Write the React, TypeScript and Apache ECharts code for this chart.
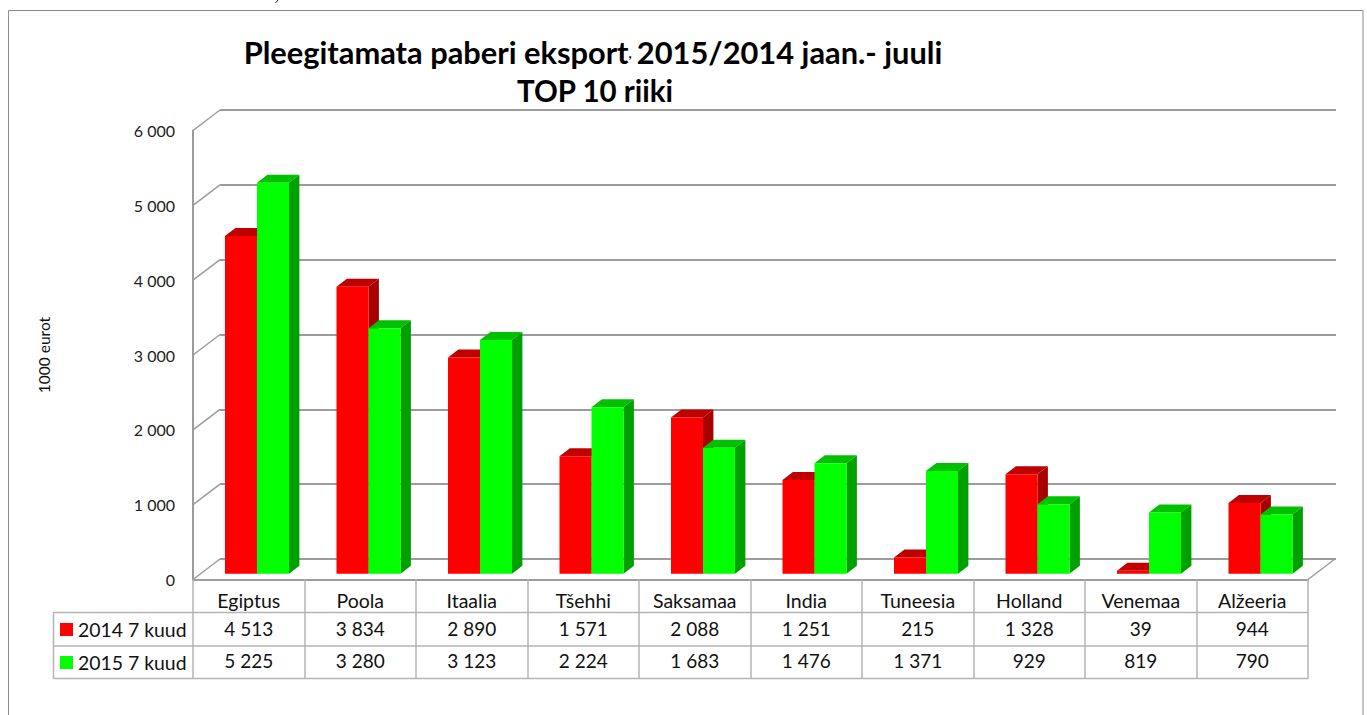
import React, { useEffect, useRef } from "react";
import * as echarts from "echarts";

const categories = ["Egiptus", "Poola", "Itaalia", "Tšehhi", "Saksamaa", "India", "Tuneesia", "Holland", "Venemaa", "Alžeeria"];
const values2014 = [4513, 3834, 2890, 1571, 2088, 1251, 215, 1328, 39, 944];
const values2015 = [5225, 3280, 3123, 2224, 1683, 1476, 1371, 929, 819, 790];
const seriesNames = ["2014 7 kuud", "2015 7 kuud"];
const yTicks = [0, 1000, 2000, 3000, 4000, 5000, 6000];
const FONT = "Lato";
const GRID = "#9c9c9c";
const TABLE = "#b4b4b4";

const fmt = (v: number) => String(v).replace(/\B(?=(\d{3})+$)/g, " ");

function bar3d(params: any, api: any, offset: number, front: string, top: string, side: string) {
  const i = api.value(0);
  const base = api.coord([i, 0]);
  const tip = api.coord([i, api.value(1)]);
  const band = api.size([1, 0])[0];
  const w = band * 0.287;
  const x0 = base[0] - band / 2 + band * 0.287 + offset * w;
  const x1 = x0 + w;
  const dx = 10.4, dy = 8, sink = 5.8;
  const yb = base[1] - sink;
  const yt = tip[1] - sink;
  return {
    type: "group",
    children: [
      { type: "polygon", shape: { points: [[x0, yt], [x1, yt], [x1 + dx, yt - dy], [x0 + dx, yt - dy]] }, style: { fill: top } },
      { type: "polygon", shape: { points: [[x1, yt], [x1 + dx, yt - dy], [x1 + dx, yb - dy], [x1, yb]] }, style: { fill: side } },
      { type: "rect", shape: { x: x0, y: yt, width: w, height: yb - yt }, style: { fill: front } },
    ],
  };
}

function cellText(yPos: number) {
  return (params: any, api: any) => {
    const c = api.coord([api.value(0), 0]);
    return {
      type: "text",
      style: { text: fmt(api.value(1)), x: c[0], y: yPos, align: "center", verticalAlign: "middle", fontFamily: FONT, fontSize: 19, fill: "#111" },
    };
  };
}

export default function App() {
  const ref = useRef<HTMLDivElement>(null);
  useEffect(() => {
    const chart = echarts.init(ref.current!, null, { renderer: "svg" });
    const hr = (x1: number, y: number, x2: number) => ({
      type: "line", shape: { x1, y1: y, x2, y2: y }, style: { stroke: TABLE, lineWidth: 1.5 }, silent: true,
    });
    chart.setOption({
      animation: false,
      backgroundColor: "#fff",
      title: {
        text: "{a|Pleegitamata paberi eksport}{b|,} {a|2015/2014 jaan.- juuli}\n{c|TOP 10 riiki}",
        left: 588,
        top: 28,
        textAlign: "center",
        textStyle: {
          rich: {
            a: { fontFamily: FONT, fontWeight: "bold", fontSize: 30.8, lineHeight: 38, color: "#000" },
            b: { fontFamily: FONT, fontWeight: "bold", fontSize: 14, lineHeight: 38, color: "#000" },
            c: { fontFamily: FONT, fontWeight: "bold", fontSize: 29.5, lineHeight: 38, color: "#000", padding: [0, 0, 0, 4] },
          },
        },
      },
      legend: {
        left: 55, top: 615, orient: "vertical", itemWidth: 13, itemHeight: 13, itemGap: 14, icon: "rect",
        data: seriesNames, selectedMode: false,
        textStyle: { fontFamily: FONT, fontSize: 19.4, color: "#111" },
      },
      grid: [
        { left: 193, top: 130.5, width: 1115, height: 449, containLabel: false },
        { left: 220, top: 110, width: 1116, height: 449, containLabel: false },
      ],
      xAxis: [
        {
          type: "category", gridIndex: 0, data: categories,
          axisLine: { lineStyle: { color: GRID, width: 2 } },
          axisTick: { show: true, inside: false, length: 99, lineStyle: { color: TABLE, width: 1.5 } },
          axisLabel: { fontFamily: FONT, fontSize: 19.5, color: "#111", margin: 11, interval: 0 },
          splitLine: { show: false },
        },
        { type: "category", gridIndex: 1, data: categories, show: false },
      ],
      yAxis: [
        {
          type: "value", gridIndex: 0, min: 0, max: 6000, interval: 1000,
          name: "1000 eurot", nameLocation: "middle", nameGap: 141,
          nameTextStyle: { fontFamily: FONT, fontSize: 15.5, color: "#111" },
          axisLine: { show: true, lineStyle: { color: GRID, width: 2 } },
          axisTick: { show: false },
          axisLabel: { fontFamily: FONT, fontSize: 16, color: "#222", margin: 18, formatter: (v: number) => fmt(v) },
          splitLine: { show: false },
        },
        {
          type: "value", gridIndex: 1, min: 0, max: 6000, interval: 1000,
          axisLine: { show: false }, axisTick: { show: false }, axisLabel: { show: false },
          splitLine: { show: true, lineStyle: { color: GRID, width: 2 } },
        },
      ],
      graphic: [
        { type: "rect", shape: { x: 8.5, y: 10.5, width: 1354.5, height: 720 }, style: { fill: "none", stroke: "#8c8c8c", lineWidth: 1 }, silent: true },
        { type: "line", shape: { x1: 275.5, y1: 3, x2: 278, y2: 0 }, style: { stroke: "#333", lineWidth: 1 }, silent: true },
        hr(53.5, 612.5, 1308.5),
        hr(53.5, 646, 1308.5),
        hr(53.5, 678.5, 1308.5),
        { type: "line", shape: { x1: 53.5, y1: 612, x2: 53.5, y2: 679 }, style: { stroke: TABLE, lineWidth: 1.5 }, silent: true },
      ],
      series: [
        {
          // Diagonals of the side wall and the floor
          type: "custom", name: "wall", coordinateSystem: "cartesian2d", xAxisIndex: 0, yAxisIndex: 0, z: 1, clip: false,
          silent: true, data: yTicks.map((t) => [0, t]),
          renderItem: (p: any, api: any) => {
            const c = api.coord([0, api.value(1)]);
            const band = api.size([1, 0])[0];
            const left = c[0] - band / 2;
            const line = (x: number) => ({
              type: "line", shape: { x1: x, y1: c[1], x2: x + 27, y2: c[1] - 20.5 }, style: { stroke: GRID, lineWidth: 1.5 },
            });
            const kids: any[] = [line(left)];
            if (api.value(1) === 0) kids.push(line(left + band * 10));
            return { type: "group", children: kids };
          },
        },
        {
          type: "custom", name: seriesNames[0], coordinateSystem: "cartesian2d", z: 3, clip: false,
          itemStyle: { color: "#ff0000" },
          data: values2014.map((v, i) => [i, v]),
          encode: { x: 0, y: 1 },
          renderItem: (p: any, api: any) => bar3d(p, api, 0, "#ff0000", "#c00000", "#a80000"),
        },
        {
          type: "custom", name: seriesNames[1], coordinateSystem: "cartesian2d", z: 4, clip: false,
          itemStyle: { color: "#00ff00" },
          data: values2015.map((v, i) => [i, v]),
          encode: { x: 0, y: 1 },
          renderItem: (p: any, api: any) => bar3d(p, api, 1, "#00ff00", "#00c000", "#00a000"),
        },
        {
          type: "custom", name: "table2014", coordinateSystem: "cartesian2d", z: 5, clip: false, silent: true,
          data: values2014.map((v, i) => [i, v]), renderItem: cellText(628),
        },
        {
          type: "custom", name: "table2015", coordinateSystem: "cartesian2d", z: 5, clip: false, silent: true,
          data: values2015.map((v, i) => [i, v]), renderItem: cellText(660.5),
        },
      ],
    });
    return () => chart.dispose();
  }, []);
  return <div ref={ref} style={{ position: "fixed", left: 0, top: 0, width: 1367, height: 715 }} />;
}
